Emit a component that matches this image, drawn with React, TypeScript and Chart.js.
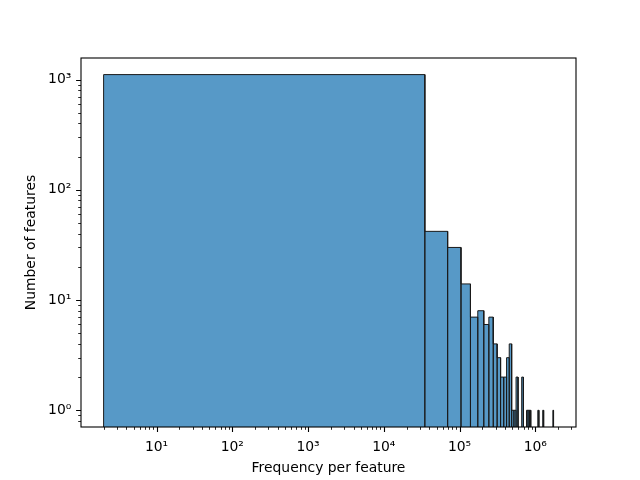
import React, { useEffect, useRef } from "react";
import { Chart, registerables } from "chart.js";

Chart.register(...registerables);

// histogram: 50 linear bins, drawn on a log x axis
const binStart = 2;
const binWidth = 34820;
const counts = [
  1110, 42, 30, 14, 7, 8, 6, 7, 4, 3,
  2, 2, 3, 4, 1, 1, 2, 0, 0, 2,
  0, 0, 1, 1, 1, 0, 0, 0, 0, 0,
  0, 1, 0, 0, 0, 0, 1, 0, 0, 0,
  0, 0, 0, 0, 0, 0, 0, 0, 0, 1,
];

const xTicks = [10, 100, 1000, 1e4, 1e5, 1e6];
const xTickLabels = ["10¹", "10²", "10³", "10⁴", "10⁵", "10⁶"];
const yTicks = [1, 10, 100, 1000];
const yTickLabels = ["10⁰", "10¹", "10²", "10³"];

const xRange = [1.006, 3.446e6];
const yRange = [0.705, 1570];

const FONT = "'DejaVu Sans', sans-serif";
const FLOOR = 1e-3;

// matplotlib style frame + major/minor log ticks
const mplAxes = {
  id: "mplAxes",
  afterDraw(chart: any) {
    const { ctx, chartArea: a, scales } = chart;
    const minors = (lo: number, hi: number) => {
      const out: number[] = [];
      for (let e = Math.floor(Math.log10(lo)); e <= Math.ceil(Math.log10(hi)); e++) {
        for (let m = 2; m <= 9; m++) {
          const v = m * Math.pow(10, e);
          if (v >= lo && v <= hi) out.push(v);
        }
      }
      return out;
    };
    ctx.save();
    ctx.strokeStyle = "#000";

    ctx.lineWidth = 0.83;
    ctx.beginPath();
    minors(xRange[0], xRange[1]).forEach((v) => {
      const px = Math.round(scales.x.getPixelForValue(v)) + 0.5;
      ctx.moveTo(px, a.bottom);
      ctx.lineTo(px, a.bottom + 2.8);
    });
    minors(yRange[0], yRange[1]).forEach((v) => {
      const py = Math.round(scales.y.getPixelForValue(v)) + 0.5;
      ctx.moveTo(a.left, py);
      ctx.lineTo(a.left - 2.8, py);
    });
    ctx.stroke();

    ctx.lineWidth = 1.1;
    ctx.beginPath();
    xTicks.forEach((v) => {
      const px = Math.round(scales.x.getPixelForValue(v)) + 0.5;
      ctx.moveTo(px, a.bottom);
      ctx.lineTo(px, a.bottom + 4.9);
    });
    yTicks.forEach((v) => {
      const py = Math.round(scales.y.getPixelForValue(v)) + 0.5;
      ctx.moveTo(a.left, py);
      ctx.lineTo(a.left - 4.9, py);
    });
    ctx.stroke();

    ctx.strokeRect(a.left, a.top, a.right - a.left, a.bottom - a.top);
    ctx.restore();
  },
};

const App: React.FC = () => {
  const chartRef = useRef<HTMLCanvasElement>(null);
  const chartInstance = useRef<Chart>();

  useEffect(() => {
    if (!chartRef.current) return;
    const ctx = chartRef.current.getContext("2d");
    if (!ctx) return;

    const outline: { x: number; y: number }[] = [];
    counts.forEach((c, i) => {
      if (!c) return;
      const l = binStart + i * binWidth;
      const r = l + binWidth;
      outline.push({ x: l, y: FLOOR }, { x: l, y: c }, { x: r, y: c }, { x: r, y: FLOOR });
    });

    chartInstance.current = new Chart(ctx, {
      type: "line",
      data: {
        datasets: [
          {
            data: outline,
            fill: "start",
            backgroundColor: "rgba(31,119,180,0.75)",
            borderColor: "#1a1a1a",
            borderWidth: 1,
            pointRadius: 0,
            tension: 0,
            borderJoinStyle: "miter",
          },
        ],
      },
      options: {
        responsive: false,
        animation: false,
        events: [],
        layout: { padding: { top: 58, right: 64, left: 0, bottom: 0 } },
        plugins: { legend: { display: false }, tooltip: { enabled: false } },
        scales: {
          x: {
            type: "logarithmic",
            min: xRange[0],
            max: xRange[1],
            bounds: "data",
            grid: { display: false, drawTicks: false },
            border: { display: false },
            afterBuildTicks: (scale: any) => {
              scale.ticks = xTicks.map((v) => ({ value: v }));
            },
            afterFit: (scale: any) => {
              scale.height = 53;
            },
            ticks: {
              autoSkip: false,
              maxRotation: 0,
              padding: 12,
              color: "#000",
              font: { family: FONT, size: 13.9 },
              callback: (_v: any, i: number) => xTickLabels[i],
            },
            title: {
              display: true,
              text: "Frequency per feature",
              color: "#000",
              font: { family: FONT, size: 13.9 },
              padding: { top: 0, bottom: 3.7 },
            },
          },
          y: {
            type: "logarithmic",
            min: yRange[0],
            max: yRange[1],
            bounds: "data",
            grid: { display: false, drawTicks: false },
            border: { display: false },
            afterBuildTicks: (scale: any) => {
              scale.ticks = yTicks.map((v) => ({ value: v }));
            },
            afterFit: (scale: any) => {
              scale.width = 81;
            },
            ticks: {
              autoSkip: false,
              padding: 9.7,
              color: "#000",
              font: { family: FONT, size: 13.9 },
              callback: (_v: any, i: number) => yTickLabels[i],
            },
            title: {
              display: true,
              text: "Number of features",
              color: "#000",
              font: { family: FONT, size: 13.9 },
              padding: { top: 22.7, bottom: 0 },
            },
          },
        },
      },
      plugins: [mplAxes],
    } as any);

    return () => {
      if (chartInstance.current) chartInstance.current.destroy();
    };
  }, []);

  return (
    <div style={{ position: "fixed", left: 0, top: 0, width: 640, height: 480, background: "#fff" }}>
      <canvas ref={chartRef} width={640} height={480} style={{ display: "block" }}></canvas>
    </div>
  );
};

export default App;
